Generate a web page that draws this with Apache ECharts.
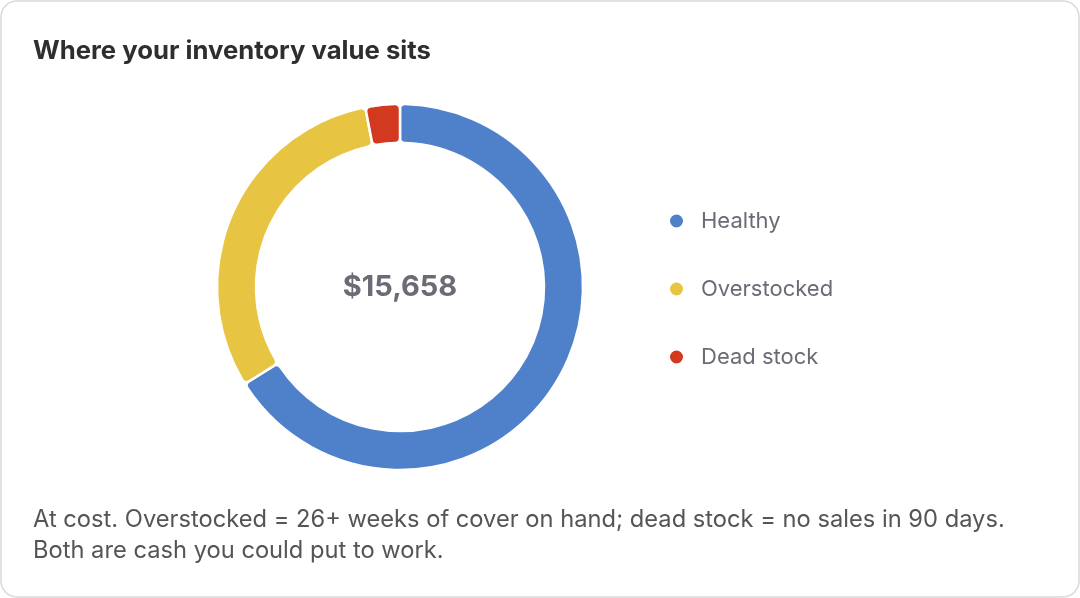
<!DOCTYPE html>
<html>
<head>
<meta charset="utf-8">
<script src="https://cdn.jsdelivr.net/npm/echarts@6/dist/echarts.min.js"></script>
<style>
  html, body { margin: 0; padding: 0; background: #fff; }
  #inventory-donut { width: 1080px; height: 598px; }
</style>
</head>
<body>
<div id="inventory-donut"></div>
<script>
// values at cost
var categories = ['Healthy', 'Overstocked', 'Dead stock'];
var values = [10352, 4830, 476];
var colors = ['#4f81cb', '#e8c443', '#d3391f'];

var total = values.reduce(function (a, b) { return a + b; }, 0);

var myChart = echarts.init(document.getElementById('inventory-donut'));
var font = 'Inter, "Noto Sans", sans-serif';

var option = {
    backgroundColor: '#fff',
    animation: false,
    title: [
        {
            text: 'Where your inventory value sits',
            left: 33,
            top: 38,
            padding: 0,
            textStyle: { fontFamily: font, fontSize: 25.7, fontWeight: 700, color: '#2e2e30' }
        },
        {
            text: '$' + total.toLocaleString('en-US'),
            left: 400,
            top: 287,
            padding: 0,
            textAlign: 'center',
            textVerticalAlign: 'middle',
            textStyle: { fontFamily: font, fontSize: 29, fontWeight: 700, color: '#6b6b76' }
        }
    ],
    legend: {
        orient: 'vertical',
        left: 663,
        top: 205,
        icon: 'circle',
        itemWidth: 15,
        itemHeight: 15,
        itemGap: 46,
        selectedMode: false,
        data: categories,
        textStyle: {
            fontFamily: font,
            fontSize: 22,
            lineHeight: 22,
            color: '#6b6b76',
            padding: [0, 0, 0, 12]
        }
    },
    graphic: [
        {
            type: 'rect',
            z: -10,
            shape: { x: 1, y: 1, width: 1078, height: 596, r: 16 },
            style: { fill: '#fff', stroke: '#d9d9d9', lineWidth: 1.5 }
        },
        {
            type: 'text',
            left: 33,
            top: 504,
            style: {
                text: 'At cost. Overstocked = 26+ weeks of cover on hand; dead stock = no sales in 90 days.\nBoth are cash you could put to work.',
                font: '23.7px ' + font,
                lineHeight: 31,
                fill: '#555558'
            }
        }
    ],
    series: [
        {
            type: 'pie',
            center: [400, 287],
            radius: [144, 183],
            startAngle: 90,
            clockwise: true,
            label: { show: false },
            labelLine: { show: false },
            emphasis: { disabled: true },
            itemStyle: {
                borderColor: '#fff',
                borderWidth: 2.5,
                borderRadius: 5
            },
            data: categories.map(function (name, i) {
                return { name: name, value: values[i], itemStyle: { color: colors[i] } };
            })
        }
    ]
};

myChart.setOption(option);
window.addEventListener('resize', function () {
    myChart.resize();
});
</script>
</body>
</html>
